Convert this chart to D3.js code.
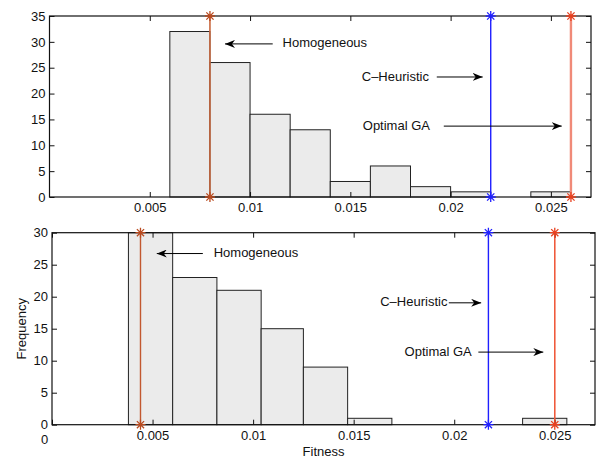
<!DOCTYPE html>
<meta charset="utf-8">
<head>
<style>
body { margin: 0; background: #fff; }
svg { font-family: "Liberation Sans", Arial, Helvetica, sans-serif; }
.bar { fill: #ebebeb; stroke: #222; stroke-width: 1px; }
.axis text { font-size: 13px; fill: #111; }
.axis line, .axis path { stroke: #111; }
.box { fill: none; stroke: #111; stroke-width: 1.2px; }
.note { font-size: 13px; fill: #111; }
.arrow { stroke: #000; stroke-width: 1px; }
</style>
<script src="https://d3js.org/d3.v7.min.js"></script>
<title>Fitness histograms</title>
</head>
<body>
<script>

// ---- data ----
// top histogram: bin edges (width 0.002) and counts
var topEdges  = [0, 0.002, 0.004, 0.006, 0.008, 0.010, 0.012, 0.014, 0.016, 0.018, 0.020, 0.022, 0.024, 0.026];
var topCounts = [0, 0, 0, 32, 26, 16, 13, 3, 6, 2, 1, 0, 1];

// bottom histogram: bin edges and counts
var bottomEdges  = [0.0038, 0.0060, 0.0082, 0.0104, 0.0125, 0.0147, 0.0169, 0.0191, 0.0213, 0.0234, 0.0256];
var bottomCounts = [30, 23, 21, 15, 9, 1, 0, 0, 0, 1];

// reference methods, their fitness in each panel
var methods   = ["Homogeneous", "C\u2013Heuristic", "Optimal GA"];
var topRefX    = [0.008, 0.022, 0.026];
var bottomRefX = [0.0044, 0.0217, 0.025];

// annotation text anchor (fitness, frequency) and arrow start/end fitness
var topNoteX    = [0.01162, 0.01557, 0.01562];
var topNoteY    = [29.8, 23.4, 13.9];
var topArrowX0  = [0.01113, 0.01931, 0.01966];
var topArrowX1  = [0.00875, 0.0216, 0.02554];

var bottomNoteX   = [0.00804, 0.01632, 0.01753];
var bottomNoteY   = [26.9, 19.2, 11.5];
var bottomArrowX0 = [0.0075, 0.01973, 0.0212];
var bottomArrowX1 = [0.00521, 0.02134, 0.02443];

var xTicks = [0, 0.005, 0.01, 0.015, 0.02, 0.025];
var topYTicks = [0, 5, 10, 15, 20, 25, 30, 35];
var bottomYTicks = [0, 5, 10, 15, 20, 25, 30];

// ---- styles ----
var lineColors   = ["#c9683f", "#2020ff", "#f08a78"];
var markerColors = ["#b94a1f", "#2020ff", "#e8401f"];
var topLineW     = [1.6, 1.4, 2.4];
var bottomColors = ["#c2582f", "#2020ff", "#ef5a3c"];
var bottomMarker = ["#b94a1f", "#2020ff", "#e8401f"];

var W = 608, H = 458;
var svg = d3.select("body").append("svg").attr("width", W).attr("height", H);

svg.append("defs").append("marker")
    .attr("id", "head")
    .attr("viewBox", "0 0 10 8")
    .attr("refX", 10).attr("refY", 4)
    .attr("markerWidth", 10).attr("markerHeight", 8)
    .attr("markerUnits", "userSpaceOnUse")
    .attr("orient", "auto")
  .append("path")
    .attr("d", "M0,0 L10,4 L0,8 L3,4 Z")
    .attr("fill", "#000");

function star(g, cx, cy, r, color) {
  var d = r * 0.72;
  g.append("path")
    .attr("d", "M" + (cx - r) + "," + cy + "H" + (cx + r) +
               "M" + cx + "," + (cy - r) + "V" + (cy + r) +
               "M" + (cx - d) + "," + (cy - d) + "L" + (cx + d) + "," + (cy + d) +
               "M" + (cx - d) + "," + (cy + d) + "L" + (cx + d) + "," + (cy - d))
    .attr("stroke", color)
    .attr("stroke-width", 1.3)
    .attr("fill", "none");
}

function panel(opt) {
  var x = d3.scaleLinear().domain([0, 0.027]).range([opt.left, opt.right]);
  var y = d3.scaleLinear().domain([0, opt.ymax]).range([opt.bottom, opt.top]);
  var g = svg.append("g");

  // bars
  var bins = opt.counts.map(function(c, i) {
    return {x0: opt.edges[i], x1: opt.edges[i + 1], n: c};
  });
  g.selectAll(".bar").data(bins).enter().append("rect")
    .attr("class", "bar")
    .attr("x", function(d) { return x(d.x0); })
    .attr("width", function(d) { return x(d.x1) - x(d.x0); })
    .attr("y", function(d) { return y(Math.min(d.n, opt.ymax)); })
    .attr("height", function(d) { return y(0) - y(Math.min(d.n, opt.ymax)); });

  // axes with inward ticks
  var xb = g.append("g").attr("class", "axis")
    .attr("transform", "translate(0," + opt.bottom + ")")
    .call(d3.axisBottom(x).tickValues(opt.xTicks).tickSize(-5).tickPadding(6)
      .tickFormat(d3.format("")));
  g.append("g").attr("class", "axis")
    .attr("transform", "translate(0," + opt.top + ")")
    .call(d3.axisTop(x).tickValues(opt.xTicks).tickSize(-5).tickFormat(""));
  g.append("g").attr("class", "axis")
    .attr("transform", "translate(" + opt.left + ",0)")
    .call(d3.axisLeft(y).tickValues(opt.yTicks).tickSize(-5).tickPadding(4));
  g.append("g").attr("class", "axis")
    .attr("transform", "translate(" + opt.right + ",0)")
    .call(d3.axisRight(y).tickValues(opt.yTicks).tickSize(-5).tickFormat(""));
  g.selectAll(".axis .domain").remove();
  xb.selectAll(".tick text").filter(function(d) { return d === 0; })
    .attr("dx", -8).attr("dy", "1.0em");

  g.append("rect").attr("class", "box")
    .attr("x", opt.left).attr("y", opt.top)
    .attr("width", opt.right - opt.left).attr("height", opt.bottom - opt.top);

  // reference lines
  opt.refX.forEach(function(v, i) {
    g.append("line")
      .attr("x1", x(v)).attr("x2", x(v))
      .attr("y1", y(0)).attr("y2", y(opt.ymax))
      .attr("stroke", opt.lineColors[i])
      .attr("stroke-width", opt.lineW[i]);
    star(g, x(v), y(opt.ymax), 5, opt.markerColors[i]);
    star(g, x(v), y(0), 5, opt.markerColors[i]);
  });

  // annotations
  methods.forEach(function(m, i) {
    g.append("text").attr("class", "note")
      .attr("x", x(opt.noteX[i])).attr("y", y(opt.noteY[i]))
      .attr("dy", "0.35em")
      .text(m);
    g.append("line").attr("class", "arrow")
      .attr("x1", x(opt.arrowX0[i])).attr("x2", x(opt.arrowX1[i]))
      .attr("y1", y(opt.noteY[i]) + 1).attr("y2", y(opt.noteY[i]) + 1)
      .attr("marker-end", "url(#head)");
  });
  return {x: x, y: y};
}

panel({
  left: 49.5, right: 591, top: 16, bottom: 197, ymax: 35,
  edges: topEdges, counts: topCounts,
  xTicks: xTicks.slice(1), yTicks: topYTicks,
  refX: topRefX, lineColors: lineColors, markerColors: markerColors, lineW: topLineW,
  noteX: topNoteX, noteY: topNoteY, arrowX0: topArrowX0, arrowX1: topArrowX1
});

panel({
  left: 52, right: 595, top: 232.7, bottom: 424.7, ymax: 30,
  edges: bottomEdges, counts: bottomCounts,
  xTicks: xTicks, yTicks: bottomYTicks,
  refX: bottomRefX, lineColors: bottomColors, markerColors: bottomMarker, lineW: [1.4, 1.4, 1.6],
  noteX: bottomNoteX, noteY: bottomNoteY, arrowX0: bottomArrowX0, arrowX1: bottomArrowX1
});

// axis titles
svg.append("text").attr("class", "note")
  .attr("transform", "translate(21,328.7) rotate(-90)")
  .attr("text-anchor", "middle").attr("dy", "0.35em")
  .text("Frequency");

svg.append("text").attr("class", "note")
  .attr("x", 323.5).attr("y", 451.7)
  .attr("text-anchor", "middle").attr("dy", "0.35em")
  .text("Fitness");

</script>
</body>
</html>
